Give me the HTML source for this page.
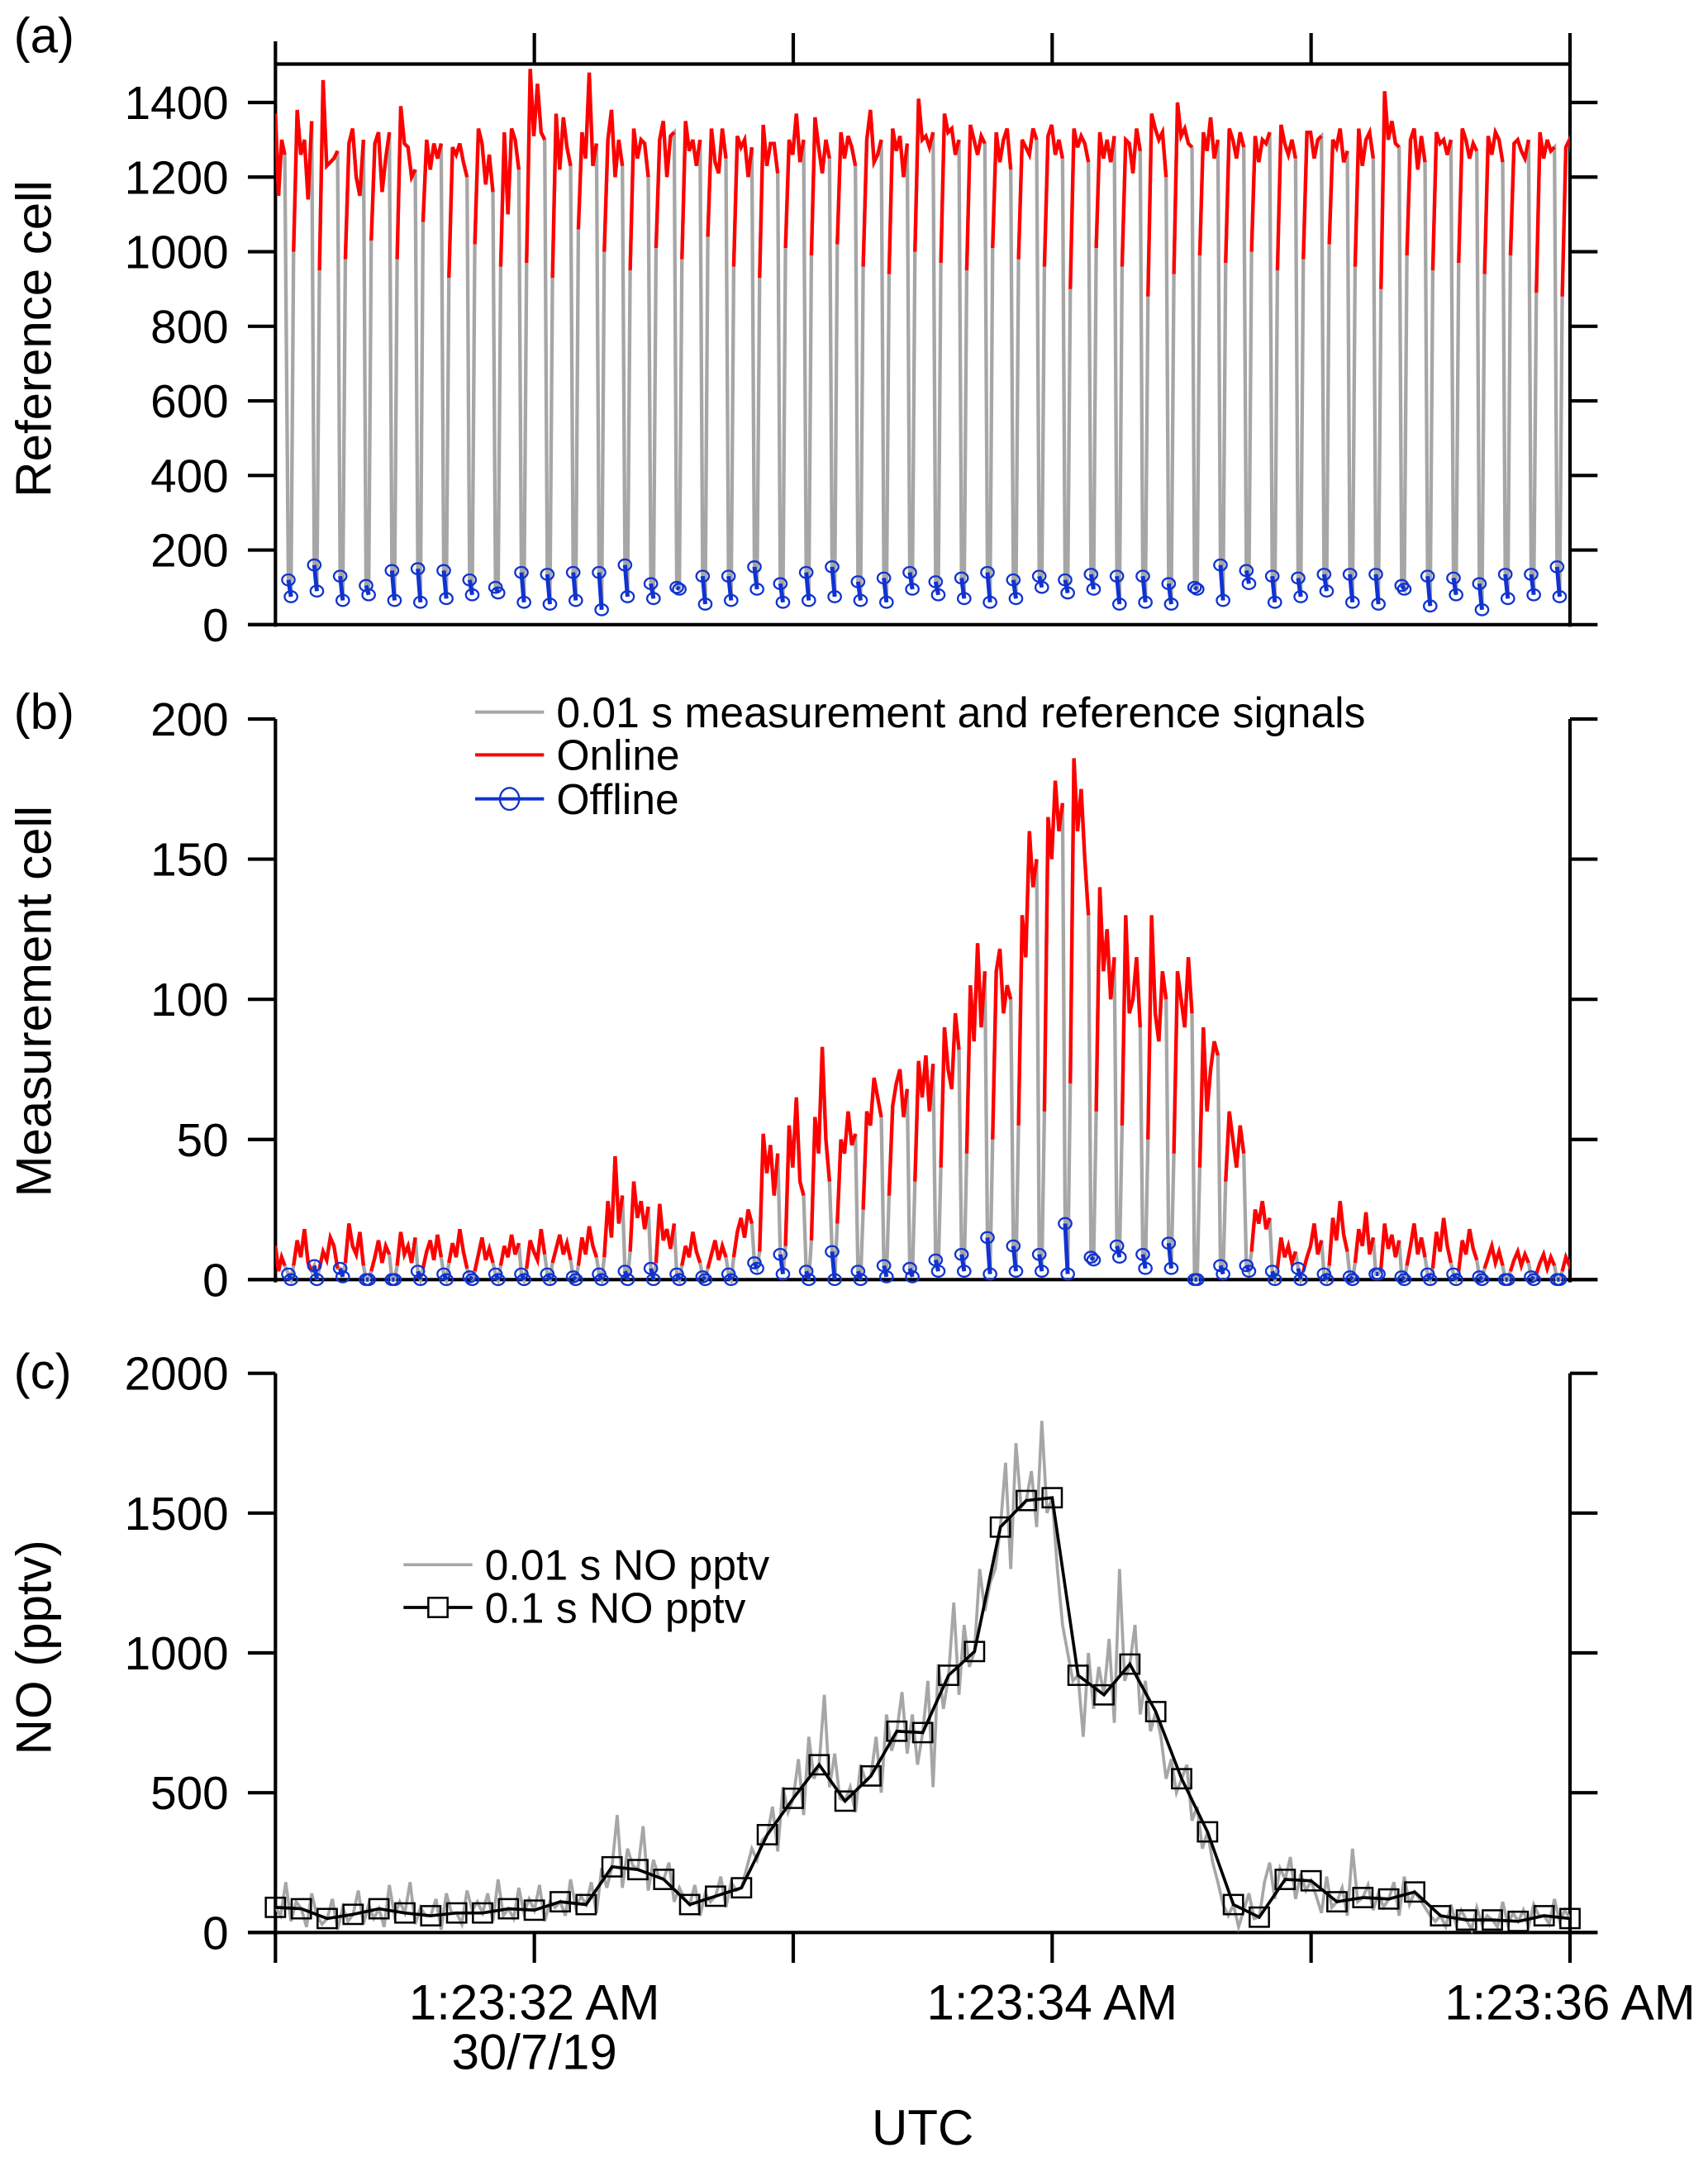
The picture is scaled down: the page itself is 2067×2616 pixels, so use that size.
<!DOCTYPE html>
<html><head><meta charset="utf-8"><title>NO chart</title>
<style>
html,body{margin:0;padding:0;background:#fff;}
svg{display:block;}
text{font-family:"Liberation Sans",Arial,sans-serif;fill:#000;}
</style></head>
<body>
<svg id="chart" xmlns="http://www.w3.org/2000/svg" width="2067" height="2616" viewBox="0 0 1240.2 1569.6">
<defs><clipPath id="plotclip"><rect x="200" y="0" width="940" height="1569"/></clipPath></defs>
<g id="static"></g>
<g id="marks" clip-path="url(#plotclip)"></g>
<g id="legend"></g>
</svg>
<script>
// ---- data ----
const timeTicks = [31, 32, 33, 34, 35, 36];
const timeLabels = ["", "1:23:32 AM", "", "1:23:34 AM", "", "1:23:36 AM"];
const refTicks = [0, 200, 400, 600, 800, 1000, 1200, 1400];
const measTicks = [0, 50, 100, 150, 200];
const noTicks = [0, 500, 1000, 1500, 2000];

const refLead = [1370, 1150, 1300, 1260];
const refOn = [
1000,1380,1260,1300,1140,1350, 950,1460,1230,1240,1250,1270, 980,1290,1330,1200,1150,1300, 1030,1290,1320,1160,1250,1320,
980,1390,1290,1280,1200,1220, 1080,1300,1220,1290,1250,1290, 930,1280,1260,1290,1240,1200, 1020,1330,1290,1180,1260,1160,
960,1320,1100,1330,1300,1220, 970,1490,1310,1450,1320,1300, 930,1370,1220,1360,1280,1230, 1060,1320,1250,1480,1230,1290,
1000,1300,1380,1200,1300,1230, 950,1330,1250,1300,1290,1200, 1010,1300,1350,1200,1310,1320, 980,1350,1270,1300,1230,1300,
1040,1330,1240,1210,1330,1250, 960,1310,1280,1300,1200,1280, 930,1340,1230,1290,1290,1210, 1010,1300,1260,1370,1240,1300,
990,1360,1280,1210,1300,1250, 1020,1320,1250,1310,1280,1230, 960,1300,1380,1240,1260,1300, 940,1330,1270,1310,1200,1290,
1000,1410,1300,1310,1280,1320, 970,1370,1320,1330,1260,1300, 950,1340,1300,1260,1310,1290, 1010,1320,1240,1300,1330,1220,
980,1300,1280,1260,1330,1300, 960,1310,1340,1260,1300,1250, 900,1330,1280,1310,1290,1240, 1010,1320,1250,1300,1240,1310,
960,1300,1290,1210,1330,1270, 880,1370,1330,1300,1320,1200, 940,1400,1310,1330,1290,1280, 990,1320,1270,1360,1250,1300,
970,1330,1300,1250,1320,1280, 1000,1310,1240,1300,1290,1320, 950,1340,1290,1260,1300,1250, 980,1320,1320,1250,1300,1310,
1020,1300,1280,1330,1240,1270, 960,1330,1230,1300,1320,1250, 900,1430,1300,1350,1290,1280, 990,1300,1330,1220,1310,1240,
950,1320,1290,1300,1260,1300, 970,1330,1300,1250,1290,1270, 940,1310,1260,1320,1300,1240, 990,1290,1300,1270,1250,1300,
890,1320,1250,1300,1270,1280, 880,1280,1300,1240,1260,1290];
const refOff = [
120,75, 160,90, 130,65, 105,80, 145,65, 150,60, 145,70, 120,80, 100,85, 140,60,
135,55, 140,65, 140,40, 160,75, 110,70, 100,95, 130,55, 130,65, 155,95, 110,60,
140,65, 155,75, 115,65, 125,60, 140,95, 115,80, 125,70, 140,60, 120,70, 130,100,
120,85, 135,95, 130,55, 130,60, 110,55, 100,95, 160,65, 145,110, 130,60, 125,75,
135,90, 135,60, 135,55, 105,95, 130,50, 125,80, 110,40, 135,70, 135,80, 155,75];

const measLead = [12, 3, 8, 5];
const measOn = [
5,14,8,18,6,3, 4,10,7,15,12,4, 6,20,12,9,17,5, 3,8,14,6,12,9, 5,17,9,12,6,15,
4,10,14,7,16,8, 6,13,8,18,10,4, 3,9,15,7,11,6, 5,12,8,16,9,13, 4,14,10,7,18,9,
6,11,16,9,13,7, 5,15,9,19,12,8, 8,28,15,44,20,30, 10,35,22,28,18,26, 6,27,14,18,11,20,
5,12,8,17,10,6, 4,9,14,7,12,8, 8,17,22,15,25,20, 10,52,38,48,30,45, 12,55,40,65,35,30,
14,58,45,83,50,35, 20,50,45,60,48,52, 25,60,55,72,65,58, 30,62,70,75,58,68, 35,78,65,80,60,77,
40,90,75,68,95,82, 45,105,85,120,90,110, 50,110,118,95,105,100, 55,130,115,160,140,150, 60,165,150,178,160,170,
70,186,160,175,150,130, 60,140,110,125,100,115, 55,130,95,100,115,90, 50,130,95,85,110,100, 45,110,100,90,115,95,
40,90,60,75,85,80, 35,60,50,40,55,45, 10,25,20,28,18,22, 4,15,8,12,6,10, 3,8,12,20,9,14,
5,22,14,28,16,10, 6,18,12,24,9,15, 4,20,11,16,8,14, 5,12,20,9,15,8, 4,17,10,22,12,6,
3,14,9,18,11,7, 4,8,12,6,10,5, 3,7,10,5,9,6, 2,6,9,4,8,5, 3,8,5,10,6,4];
const measOff = [
2,0, 5,0, 4,1, 0,0, 0,0, 3,0, 2,0, 1,0, 2,0, 2,0,
2,0, 1,0, 2,0, 3,0, 4,0, 2,0, 1,0, 2,0, 6,4, 9,2,
3,0, 10,0, 3,0, 5,1, 4,1, 7,3, 9,3, 15,2, 12,3, 9,3,
20,2, 8,7, 12,8, 9,4, 13,4, 0,0, 5,2, 5,3, 3,0, 4,0,
2,0, 1,0, 2,2, 1,0, 2,0, 2,0, 1,0, 0,0, 1,0, 0,0];

const no01 = [
90,60,180,40,110, 85,20,140,60,30, 50,120,10,90,40, 65,150,30,100,50, 85,20,170,60,110,
70,180,30,90,60, 60,120,10,140,70, 70,30,150,80,110, 70,140,40,190,60, 85,50,160,70,120,
80,170,40,110,90, 110,60,190,90,130, 100,180,70,230,160, 235,420,160,300,240, 225,380,150,260,200,
190,250,110,160,120, 100,170,60,140,110, 130,200,90,180,150, 160,230,300,260,330, 350,450,290,520,430,
480,620,420,700,550, 600,850,520,640,480, 470,520,430,600,540, 560,700,500,780,650, 720,860,640,780,600,
715,900,520,960,800, 920,1180,850,1100,950, 1005,1300,1150,1250,1300, 1450,1680,1300,1750,1520, 1545,1650,1450,1830,1500,
1555,1300,1100,1000,900, 920,700,1000,800,950, 850,1050,750,1300,900, 960,1100,780,900,720, 790,700,550,620,500,
550,600,400,450,300, 360,250,180,100,60, 100,20,80,140,50, 55,180,250,120,230, 190,270,120,210,150,
185,130,70,200,90, 110,160,60,300,110, 125,170,80,140,90, 120,180,60,200,100, 145,120,90,60,40,
60,20,100,30,80, 45,10,90,30,60, 45,20,110,30,70, 40,80,20,100,60, 60,30,120,40,80, 50];
const no1 = [90,85,50,65,85,70,60,70,70,85,80,110,100,235,225,190,100,130,160,350,480,600,470,560,720,715,920,1005,1450,1545,1555,920,850,960,790,550,360,100,55,190,185,110,125,120,145,60,45,45,40,60,50];

// ---- axes ----
const X0 = 200, X1 = 1140, T0 = 31, T1 = 36;
const xs = t => X0 + (t - T0) * (X1 - X0) / (T1 - T0);
const yA = v => 453.5 - v * (453.5 - 74.4) / 1400;
const yB = v => 929 - v * (929 - 522) / 200;
const yC = v => 1403 - v * (1403 - 997) / 2000;

const NS = "http://www.w3.org/2000/svg";
const stat = document.getElementById('static');
const marks = document.getElementById('marks');
const leg = document.getElementById('legend');
function mk(tag, attrs, parent) {
  const e = document.createElementNS(NS, tag);
  for (const k in attrs) e.setAttribute(k, attrs[k]);
  (parent || marks).appendChild(e);
  return e;
}
function line(x1, y1, x2, y2, w, name) {
  const e = mk('line', {x1, y1, x2, y2, stroke: '#000', 'stroke-width': w}, stat);
  
  
  return e;
}
function txt(x, y, s, size, anchor, name, extra) {
  const e = mk('text', Object.assign({x, y, 'font-size': size, 'text-anchor': anchor}, extra || {}), stat);
  e.textContent = s;
  
  
  return e;
}
const TS = 34, AS = 36;

// panel a frame
line(X0, 46.5, X1, 46.5, 2.5, 'panel-a-top-axis');
line(X0, 30, X0, 455, 2.5, 'panel-a-left-axis');
line(X1, 24, X1, 455, 2.5, 'panel-a-right-axis');
line(180, 453.5, X1, 453.5, 2.5, 'panel-a-baseline');
timeTicks.slice(1, 5).forEach(t => line(xs(t), 24, xs(t), 46.5, 2.5, 'panel-a-top-tick'));
refTicks.forEach(v => {
  line(180, yA(v), X0, yA(v), 2.5, 'panel-a-left-tick');
  line(X1, yA(v), 1160, yA(v), 2.5, 'panel-a-right-tick');
  txt(166, yA(v) + 12, String(v), TS, 'end', 'panel-a-y-tick-label');
});
txt(10, 38, '(a)', AS, 'start', 'panel-a-label');
txt(37, 246, 'Reference cell', AS, 'middle', 'panel-a-y-axis-title', {transform: 'rotate(-90 37 246)'});

// panel b frame
line(X0, 522, X0, 931, 2.5, 'panel-b-left-axis');
line(X1, 522, X1, 931, 2.5, 'panel-b-right-axis');
line(180, 929, 1160, 929, 2.5, 'panel-b-baseline');
measTicks.forEach(v => {
  line(180, yB(v), X0, yB(v), 2.5, 'panel-b-left-tick');
  line(X1, yB(v), 1160, yB(v), 2.5, 'panel-b-right-tick');
  txt(166, yB(v) + 12, String(v), TS, 'end', 'panel-b-y-tick-label');
});
txt(10, 529, '(b)', AS, 'start', 'panel-b-label');
txt(37, 727, 'Measurement cell', AS, 'middle', 'panel-b-y-axis-title', {transform: 'rotate(-90 37 727)'});

// panel c frame
line(X0, 997, X0, 1405, 2.5, 'panel-c-left-axis');
line(X1, 997, X1, 1405, 2.5, 'panel-c-right-axis');
line(180, 1403, 1160, 1403, 2.5, 'panel-c-x-axis');
noTicks.forEach(v => {
  line(180, yC(v), X0, yC(v), 2.5, 'panel-c-left-tick');
  line(X1, yC(v), 1160, yC(v), 2.5, 'panel-c-right-tick');
  txt(166, yC(v) + 12, String(v), TS, 'end', 'panel-c-y-tick-label');
});
timeTicks.forEach((t, i) => {
  line(xs(t), 1403, xs(t), 1425, 2.5, 'x-tick');
  if (timeLabels[i]) txt(xs(t), 1466, timeLabels[i], AS, 'middle', 'x-tick-label');
});
txt(xs(32), 1502, '30/7/19', AS, 'middle', 'x-date-label');
txt(670, 1557, 'UTC', AS, 'middle', 'x-axis-title');
txt(10, 1008, '(c)', AS, 'start', 'panel-c-label');
txt(37, 1196, 'NO (pptv)', AS, 'middle', 'panel-c-y-axis-title', {transform: 'rotate(-90 37 1196)'});

// ---- signal panels ----
const onT = (k, i) => T0 + 0.05 + 0.1 * k + 0.02 + i * 0.014;
const offT = (k, j) => T0 + 0.05 + 0.1 * k + 0.01 * j;
const leadT = i => T0 + i * 0.012;

function drawSignal(lead, on, off, yf, pname) {
  const nC = off.length / 2;
  let pts = lead.map((v, i) => [xs(leadT(i)), yf(v)]);
  for (let k = 0; k < nC; k++) {
    pts.push([xs(offT(k, 0)), yf(off[2 * k])], [xs(offT(k, 1)), yf(off[2 * k + 1])]);
    for (let i = 0; i < 6; i++) pts.push([xs(onT(k, i)), yf(on[6 * k + i])]);
  }
  const g = mk('polyline', {points: pts.map(p => p.join(',')).join(' '), fill: 'none', stroke: '#a6a6a6', 'stroke-width': 2.6});
  
  
  const segs = [lead.map((v, i) => [xs(leadT(i)), yf(v)])];
  for (let k = 0; k < nC; k++) segs.push(on.slice(6 * k, 6 * k + 6).map((v, i) => [xs(onT(k, i)), yf(v)]));
  segs.forEach(s => {
    const r = mk('polyline', {points: s.map(p => p.join(',')).join(' '), fill: 'none', stroke: '#ff0000', 'stroke-width': 2.6});
    
    
  });
  for (let k = 0; k < nC; k++) {
    const x1 = xs(offT(k, 0)), y1 = yf(off[2 * k]), x2 = xs(offT(k, 1)), y2 = yf(off[2 * k + 1]);
    const l = mk('line', {x1, y1, x2, y2, stroke: '#1033d0', 'stroke-width': 3});
    
    
    [[x1, y1], [x2, y2]].forEach(p => {
      const c = mk('ellipse', {cx: p[0], cy: p[1], rx: 4.6, ry: 4, fill: 'none', stroke: '#1033d0', 'stroke-width': 1.4});
      
      
    });
  }
}
drawSignal(refLead, refOn, refOff, yA, 'reference');
drawSignal(measLead, measOn, measOff, yB, 'measurement');

// panel b legend
(function () {
  const l1 = mk('line', {x1: 345, y1: 517, x2: 395, y2: 517, stroke: '#a6a6a6', 'stroke-width': 2.4}, leg);
  
  
  const l2 = mk('line', {x1: 345, y1: 548, x2: 395, y2: 548, stroke: '#ff0000', 'stroke-width': 2.4}, leg);
  
  
  const l3 = mk('line', {x1: 345, y1: 580, x2: 395, y2: 580, stroke: '#1033d0', 'stroke-width': 2.4}, leg);
  
  
  const c = mk('ellipse', {cx: 370, cy: 580, rx: 7, ry: 8, fill: 'none', stroke: '#1033d0', 'stroke-width': 1.4}, leg);
  
  
  txt(404, 528, '0.01 s measurement and reference signals', 31, 'start', 'legend-raw-label');
  txt(404, 559, 'Online', 31, 'start', 'legend-online-label');
  txt(404, 591, 'Offline', 31, 'start', 'legend-offline-label');
})();

// ---- panel c ----
(function () {
  const p1 = no01.map((v, i) => [xs(T0 + 0.02 * i), yC(v)]);
  const g = mk('polyline', {points: p1.map(p => p.join(',')).join(' '), fill: 'none', stroke: '#a6a6a6', 'stroke-width': 2.2});
  
  
  const p2 = no1.map((v, i) => [xs(T0 + 0.1 * i), yC(v)]);
  const b = mk('polyline', {points: p2.map(p => p.join(',')).join(' '), fill: 'none', stroke: '#000', 'stroke-width': 2.2}, leg);
  
  
  p2.forEach(p => {
    const s = mk('rect', {x: p[0] - 7, y: p[1] - 7, width: 14, height: 14, fill: 'none', stroke: '#000', 'stroke-width': 1.5}, leg);
    
    
  });
  const a = mk('line', {x1: 293, y1: 1136, x2: 343, y2: 1136, stroke: '#a6a6a6', 'stroke-width': 2.2}, leg);
  
  
  const d = mk('line', {x1: 293, y1: 1167, x2: 343, y2: 1167, stroke: '#000', 'stroke-width': 2.2}, leg);
  
  
  const sq = mk('rect', {x: 311, y: 1160, width: 14, height: 14, fill: '#fff', stroke: '#000', 'stroke-width': 1.5}, leg);
  
  
  txt(352, 1147, '0.01 s NO pptv', 31, 'start', 'legend-no-0.01s-label');
  txt(352, 1178, '0.1 s NO pptv', 31, 'start', 'legend-no-0.1s-label');
})();
</script>
</body></html>
